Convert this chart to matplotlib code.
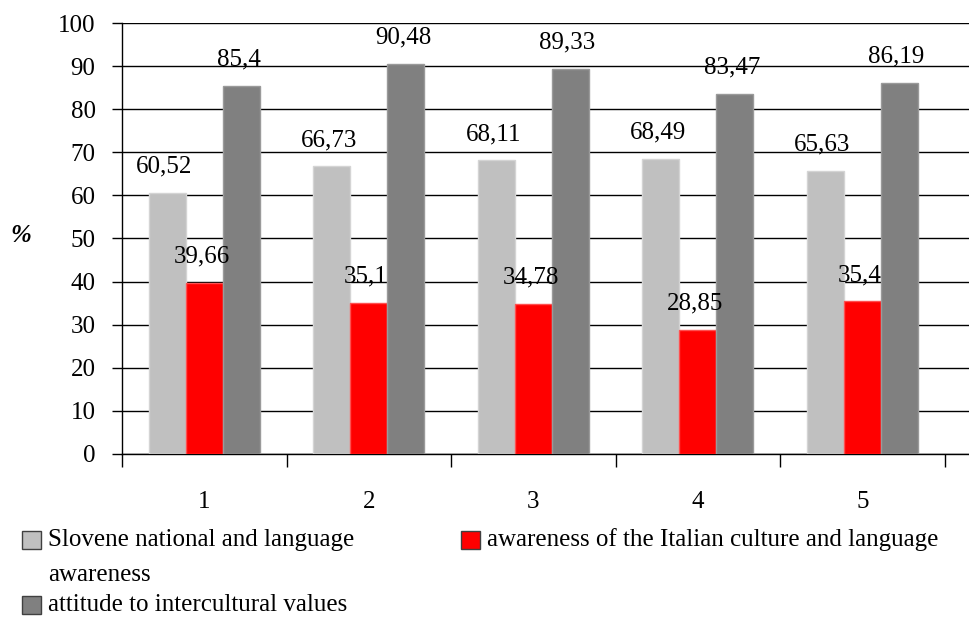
import numpy as np
import matplotlib.pyplot as plt
from matplotlib.patches import Rectangle

plt.rcParams["font.family"] = ["Liberation Serif", "DejaVu Serif"]

groups = ["1", "2", "3", "4", "5"]
slovene = [60.52, 66.73, 68.11, 68.49, 65.63]
italian = [39.66, 35.1, 34.78, 28.85, 35.4]
intercultural = [85.4, 90.48, 89.33, 83.47, 86.19]

series = [
    (["Slovene national and language", "awareness"], slovene, "#c0c0c0", "#d4d4d4"),
    (["awareness of the Italian culture and language"], italian, "#ff0000", "#ff5050"),
    (["attitude to intercultural values"], intercultural, "#808080", "#9a9a9a"),
]

W, H = 969, 617
FS = 18
fig = plt.figure(figsize=(W / 100, H / 100), dpi=100)
ax = fig.add_axes([122 / W, 1 - 454 / H, (969 - 122) / W, (454 - 23) / H])

x = np.arange(len(groups))
width = 0.225
for i, (name, vals, color, edge) in enumerate(series):
    pos = x + (i - 1) * width
    ax.bar(pos, vals, width, color=color, edgecolor=edge, linewidth=1, zorder=3)
    for px, v in zip(pos, vals):
        ax.annotate(
            "{:g}".format(v).replace(".", ","),
            (px, v),
            xytext=(-2, 19),
            textcoords="offset points",
            ha="center",
            va="center",
            fontsize=FS,
            zorder=4,
        )

ax.set_ylim(0, 100)
ax.set_xlim(-0.5, -0.5 + (969 - 122) / 164.5)
ax.set_yticks(np.arange(0, 101, 10))
ax.yaxis.grid(True, color="black", linewidth=1, zorder=0)
ax.tick_params(axis="y", length=7, width=1, labelsize=FS, pad=12)

# category boundaries carry the ticks, labels sit at group centres
ax.set_xticks(np.arange(-0.5, 5, 1))
ax.set_xticklabels([])
ax.set_xticks(x, minor=True)
ax.set_xticklabels(groups, minor=True, fontsize=FS)
ax.tick_params(axis="x", which="major", length=9, width=1)
ax.tick_params(axis="x", which="minor", length=0, pad=27)

for s in ["top", "right"]:
    ax.spines[s].set_visible(False)
ax.spines["left"].set_linewidth(1)
ax.spines["bottom"].set_linewidth(1)

fig.text(21 / W, 1 - 236 / H, "%", fontsize=FS, fontweight="bold",
         fontstyle="italic", ha="center", va="center")

# legend drawn by hand so the wrapped label keeps its box on the first line
legend_pos = [(22, 531), (461, 531), (22, 596)]
for (lines, vals, color, edge), (lx, ly) in zip(series, legend_pos):
    fig.patches.append(Rectangle((lx / W, 1 - (ly + 18) / H), 19 / W, 18 / H,
                                 transform=fig.transFigure, facecolor=color,
                                 edgecolor="#404040", linewidth=1))
    for k, line in enumerate(lines):
        fig.text((lx + 26) / W, 1 - (ly + 9 + 35 * k) / H, line, fontsize=FS,
                 ha="left", va="center")

fig.savefig("out.png", dpi=100)
